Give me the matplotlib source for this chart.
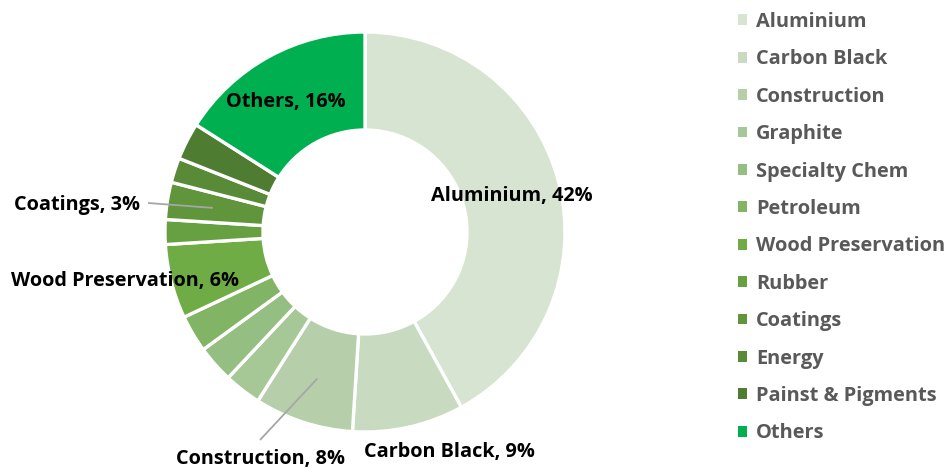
import numpy as np
import matplotlib
matplotlib.use("Agg")
import matplotlib.pyplot as plt

categories = ["Aluminium", "Carbon Black", "Construction", "Graphite", "Specialty Chem",
              "Petroleum", "Wood Preservation", "Rubber", "Coatings", "Energy",
              "Painst & Pigments", "Others"]
shares = [42, 9, 8, 3, 3, 3, 6, 2, 3, 2, 3, 16]
colors = ["#D8E4D2", "#C8DABF", "#B6CFAA", "#A6C796", "#95BE82", "#81B464",
          "#6FAC46", "#67A040", "#60953B", "#598A37", "#4E7C31", "#00B050"]

# which slices get a data label, and where the label text sits (data coords)
label_pos = {
    "Aluminium": (0.735, 0.18),
    "Carbon Black": (0.42, -1.10),
    "Construction": (-0.525, -1.135),
    "Wood Preservation": (-1.20, -0.245),
    "Coatings": (-1.44, 0.135),
    "Others": (-0.395, 0.65),
}
leaders = {"Construction": (-0.525, -1.04), "Coatings": (-1.085, 0.145)}

plt.rcParams["font.family"] = ["Open Sans", "DejaVu Sans"]

W, H = 951, 469
fig = plt.figure(figsize=(W / 100, H / 100), dpi=100)
cx, cy, R = 365, 232, 200
ax = fig.add_axes([(cx - R) / W, (H - cy - R) / H, 2 * R / W, 2 * R / H])

wedges, _ = ax.pie(shares, colors=colors, startangle=90, counterclock=False,
                   radius=1.0,
                   wedgeprops=dict(width=0.49, edgecolor="white", linewidth=2.4))
ax.set_xlim(-1, 1)
ax.set_ylim(-1, 1)
ax.set_aspect("equal")
ax.axis("off")

total = sum(shares)
cum = 0
for name, val in zip(categories, shares):
    mid = cum + val / 2
    cum += val
    if name not in label_pos:
        continue
    tx, ty = label_pos[name]
    if name in leaders:
        ang = np.deg2rad(90 - 360 * mid / total)
        r = 0.77
        lx, ly = leaders[name]
        ax.plot([r * np.cos(ang), lx], [r * np.sin(ang), ly], color="#A6A6A6",
                lw=1.3, clip_on=False, solid_capstyle="butt")
    ax.text(tx, ty, f"{name}, {val}%", ha="center", va="center", fontsize=14.3,
            fontweight="bold", color="black", clip_on=False)

# legend swatches drawn as plain squares without the white wedge border
handles = [plt.Rectangle((0, 0), 1, 1, facecolor=c, edgecolor="none") for c in colors]
leg = fig.legend(handles, categories, loc="upper left",
                 bbox_to_anchor=(724 / W, 1 + 2 / H), frameon=False,
                 handlelength=0.45, handleheight=0.45, handletextpad=0.45,
                 labelspacing=0.87, fontsize=14.4, borderpad=0.2)
for t in leg.get_texts():
    t.set_color("#595959")
    t.set_fontweight("bold")

fig.savefig("out.png", dpi=100)
